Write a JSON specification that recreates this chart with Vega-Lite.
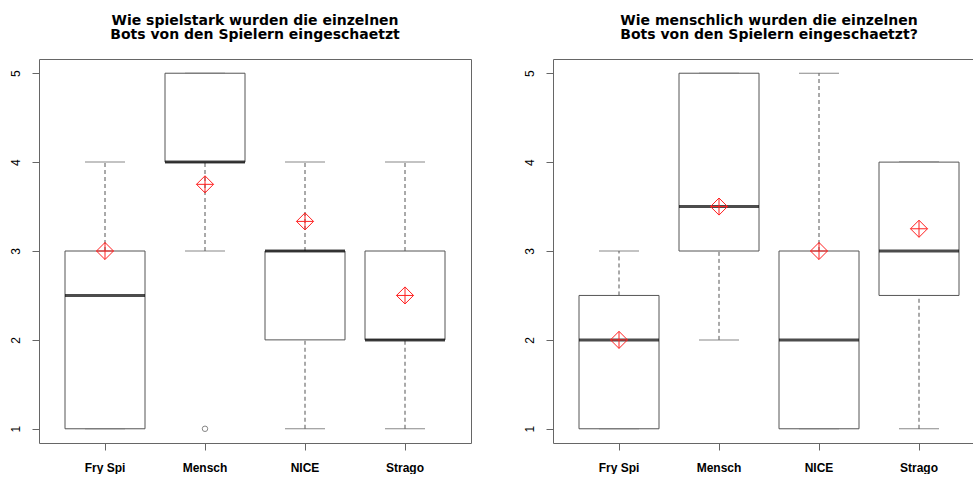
{
  "$schema": "https://vega.github.io/schema/vega-lite/v6.json",
  "padding": {"left": 8, "top": 13, "right": 0, "bottom": 0},
  "background": "white",
  "bounds": "flush",
  "spacing": 82,
  "config": {
    "view": {"stroke": "#666", "strokeWidth": 1},
    "font": "Liberation Sans",
    "title": {"fontSize": 14, "fontWeight": "bold", "font": "DejaVu Sans", "color": "black", "anchor": "middle", "offset": 17, "lineHeight": 14.5},
    "axisY": {"labelAngle": -90, "tickSize": 7, "labelPadding": 10, "labelFontSize": 12, "labelColor": "black", "tickColor": "#666", "domain": false, "grid": false, "title": null, "labelFont": "Liberation Sans"},
    "axisX": {"tickSize": 7, "labelPadding": 12, "labelFontSize": 12, "labelFontWeight": "bold", "labelColor": "black", "tickColor": "#666", "domain": false, "grid": false, "title": null, "labelAngle": 0, "labelFont": "Liberation Sans"}
  },
  "datasets": {
    "boxes": [
      {"panel": "A", "bot": "Fry Spi", "lo": 1, "q1": 1, "med": 2.5, "q3": 3, "hi": 4, "mean": 3.0, "out": null},
      {"panel": "A", "bot": "Mensch", "lo": 3, "q1": 4, "med": 4, "q3": 5, "hi": 5, "mean": 3.75, "out": 1},
      {"panel": "A", "bot": "NICE", "lo": 1, "q1": 2, "med": 3, "q3": 3, "hi": 4, "mean": 3.333, "out": null},
      {"panel": "A", "bot": "Strago", "lo": 1, "q1": 2, "med": 2, "q3": 3, "hi": 4, "mean": 2.5, "out": null},
      {"panel": "B", "bot": "Fry Spi", "lo": 1, "q1": 1, "med": 2, "q3": 2.5, "hi": 3, "mean": 2.0, "out": null},
      {"panel": "B", "bot": "Mensch", "lo": 2, "q1": 3, "med": 3.5, "q3": 5, "hi": 5, "mean": 3.5, "out": null},
      {"panel": "B", "bot": "NICE", "lo": 1, "q1": 1, "med": 2, "q3": 3, "hi": 5, "mean": 3.0, "out": null},
      {"panel": "B", "bot": "Strago", "lo": 1, "q1": 2.5, "med": 3, "q3": 4, "hi": 4, "mean": 3.25, "out": null}
    ]
  },
  "hconcat": [
    {
      "width": 432, "height": 384,
      "title": {"text": ["Wie spielstark wurden die einzelnen", "Bots von den Spielern eingeschaetzt"]},
      "data": {"name": "boxes"},
      "transform": [{"filter": "datum.panel == 'A'"}],
      "encoding": {"x": {"field": "bot", "type": "nominal", "sort": null, "scale": {"paddingInner": 0.2, "paddingOuter": 0.26}}},
      "layer": [
        {"mark": {"type": "rule", "strokeDash": [4, 3], "color": "#555"}, "encoding": {"y": {"field": "lo", "type": "quantitative", "scale": {"domain": [0.84, 5.16], "nice": false, "zero": false}, "axis": {"values": [1, 2, 3, 4, 5], "format": "d"}}, "y2": {"field": "q1"}}},
        {"mark": {"type": "rule", "strokeDash": [4, 3], "color": "#555"}, "encoding": {"y": {"field": "q3", "type": "quantitative", "scale": {"domain": [0.84, 5.16], "nice": false, "zero": false}, "axis": {"values": [1, 2, 3, 4, 5], "format": "d"}}, "y2": {"field": "hi"}}},
        {"mark": {"type": "tick", "size": 40, "thickness": 1, "color": "#555"}, "encoding": {"y": {"field": "lo", "type": "quantitative", "scale": {"domain": [0.84, 5.16], "nice": false, "zero": false}, "axis": {"values": [1, 2, 3, 4, 5], "format": "d"}}}},
        {"mark": {"type": "tick", "size": 40, "thickness": 1, "color": "#555"}, "encoding": {"y": {"field": "hi", "type": "quantitative", "scale": {"domain": [0.84, 5.16], "nice": false, "zero": false}, "axis": {"values": [1, 2, 3, 4, 5], "format": "d"}}}},
        {"mark": {"type": "bar", "fill": "white", "stroke": "#555", "strokeWidth": 1}, "encoding": {"y": {"field": "q1", "type": "quantitative", "scale": {"domain": [0.84, 5.16], "nice": false, "zero": false}, "axis": {"values": [1, 2, 3, 4, 5], "format": "d"}}, "y2": {"field": "q3"}}},
        {"mark": {"type": "tick", "size": 80, "thickness": 3, "color": "black"}, "encoding": {"y": {"field": "med", "type": "quantitative", "scale": {"domain": [0.84, 5.16], "nice": false, "zero": false}, "axis": {"values": [1, 2, 3, 4, 5], "format": "d"}}}},
        {"mark": {"type": "point", "shape": "circle", "size": 30, "filled": false, "color": "#555", "strokeWidth": 1}, "encoding": {"y": {"field": "out", "type": "quantitative", "scale": {"domain": [0.84, 5.16], "nice": false, "zero": false}, "axis": {"values": [1, 2, 3, 4, 5], "format": "d"}}}},
        {"mark": {"type": "point", "shape": "M-1,0L0,-1L1,0L0,1ZM-1,0L1,0M0,-1L0,1", "size": 290, "filled": false, "color": "#ff2020", "strokeWidth": 1, "opacity": 1}, "encoding": {"y": {"field": "mean", "type": "quantitative", "scale": {"domain": [0.84, 5.16], "nice": false, "zero": false}, "axis": {"values": [1, 2, 3, 4, 5], "format": "d"}}}}
      ]
    },
    {
      "width": 432, "height": 384,
      "title": {"text": ["Wie menschlich wurden die einzelnen", "Bots von den Spielern eingeschaetzt?"]},
      "data": {"name": "boxes"},
      "transform": [{"filter": "datum.panel == 'B'"}],
      "encoding": {"x": {"field": "bot", "type": "nominal", "sort": null, "scale": {"paddingInner": 0.2, "paddingOuter": 0.26}}},
      "layer": [
        {"mark": {"type": "rule", "strokeDash": [4, 3], "color": "#555"}, "encoding": {"y": {"field": "lo", "type": "quantitative", "scale": {"domain": [0.84, 5.16], "nice": false, "zero": false}, "axis": {"values": [1, 2, 3, 4, 5], "format": "d"}}, "y2": {"field": "q1"}}},
        {"mark": {"type": "rule", "strokeDash": [4, 3], "color": "#555"}, "encoding": {"y": {"field": "q3", "type": "quantitative", "scale": {"domain": [0.84, 5.16], "nice": false, "zero": false}, "axis": {"values": [1, 2, 3, 4, 5], "format": "d"}}, "y2": {"field": "hi"}}},
        {"mark": {"type": "tick", "size": 40, "thickness": 1, "color": "#555"}, "encoding": {"y": {"field": "lo", "type": "quantitative", "scale": {"domain": [0.84, 5.16], "nice": false, "zero": false}, "axis": {"values": [1, 2, 3, 4, 5], "format": "d"}}}},
        {"mark": {"type": "tick", "size": 40, "thickness": 1, "color": "#555"}, "encoding": {"y": {"field": "hi", "type": "quantitative", "scale": {"domain": [0.84, 5.16], "nice": false, "zero": false}, "axis": {"values": [1, 2, 3, 4, 5], "format": "d"}}}},
        {"mark": {"type": "bar", "fill": "white", "stroke": "#555", "strokeWidth": 1}, "encoding": {"y": {"field": "q1", "type": "quantitative", "scale": {"domain": [0.84, 5.16], "nice": false, "zero": false}, "axis": {"values": [1, 2, 3, 4, 5], "format": "d"}}, "y2": {"field": "q3"}}},
        {"mark": {"type": "tick", "size": 80, "thickness": 3, "color": "black"}, "encoding": {"y": {"field": "med", "type": "quantitative", "scale": {"domain": [0.84, 5.16], "nice": false, "zero": false}, "axis": {"values": [1, 2, 3, 4, 5], "format": "d"}}}},
        {"mark": {"type": "point", "shape": "M-1,0L0,-1L1,0L0,1ZM-1,0L1,0M0,-1L0,1", "size": 290, "filled": false, "color": "#ff2020", "strokeWidth": 1, "opacity": 1}, "encoding": {"y": {"field": "mean", "type": "quantitative", "scale": {"domain": [0.84, 5.16], "nice": false, "zero": false}, "axis": {"values": [1, 2, 3, 4, 5], "format": "d"}}}}
      ]
    }
  ]
}
